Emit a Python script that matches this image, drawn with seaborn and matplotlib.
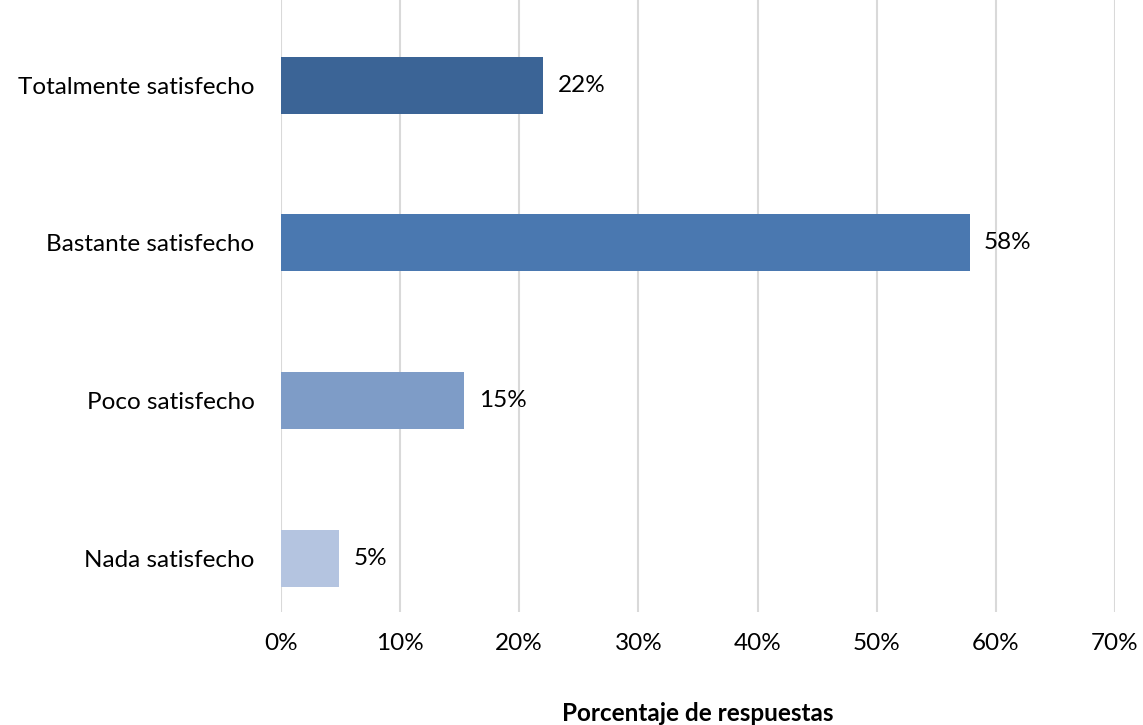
import matplotlib
matplotlib.use("Agg")
import matplotlib.pyplot as plt
import seaborn as sns
import pandas as pd

# datos de la encuesta
categorias = ["Totalmente satisfecho", "Bastante satisfecho", "Poco satisfecho", "Nada satisfecho"]
porcentajes = [22.0, 57.8, 15.4, 4.9]
colores = ["#3B6496", "#4A78B0", "#7E9CC7", "#B4C4E0"]
ticks_x = [0, 10, 20, 30, 40, 50, 60, 70]

df = pd.DataFrame({"categoria": categorias, "porcentaje": porcentajes})

sns.set_style("white")
plt.rcParams["font.family"] = ["Lato", "DejaVu Sans"]
fs = 17.5

fig = plt.figure(figsize=(11.43, 7.25), dpi=100)
ax = fig.add_axes([0.2458, 0.156, 0.7297, 0.844])

sns.barplot(data=df, x="porcentaje", y="categoria", hue="categoria",
            palette=colores, legend=False, width=0.36, orient="h", ax=ax,
            saturation=1, linewidth=0, zorder=3)

# etiquetas de valor
for i, v in enumerate(porcentajes):
    ax.text(v + 1.2, i, "%.0f%%" % v, va="center", ha="left", fontsize=fs, color="black")

ax.set_xlim(0, 70)
ax.set_ylim(3.34, -0.54)
ax.set_xticks(ticks_x)
ax.set_xticklabels([str(t) + "%" for t in ticks_x], fontsize=fs)
ax.tick_params(axis="x", length=0, pad=15, labelcolor="black")
ax.tick_params(axis="y", length=0, pad=19, labelsize=fs, labelcolor="black")
ax.xaxis.grid(True, color="#D9D9D9", linewidth=1.5, zorder=0)
ax.set_axisbelow(True)
for s in ax.spines.values():
    s.set_visible(False)

ax.set_ylabel("")
ax.set_xlabel("Porcentaje de respuestas", fontsize=fs, fontweight="bold",
              labelpad=35, color="black")

fig.savefig("out.png", dpi=100)
